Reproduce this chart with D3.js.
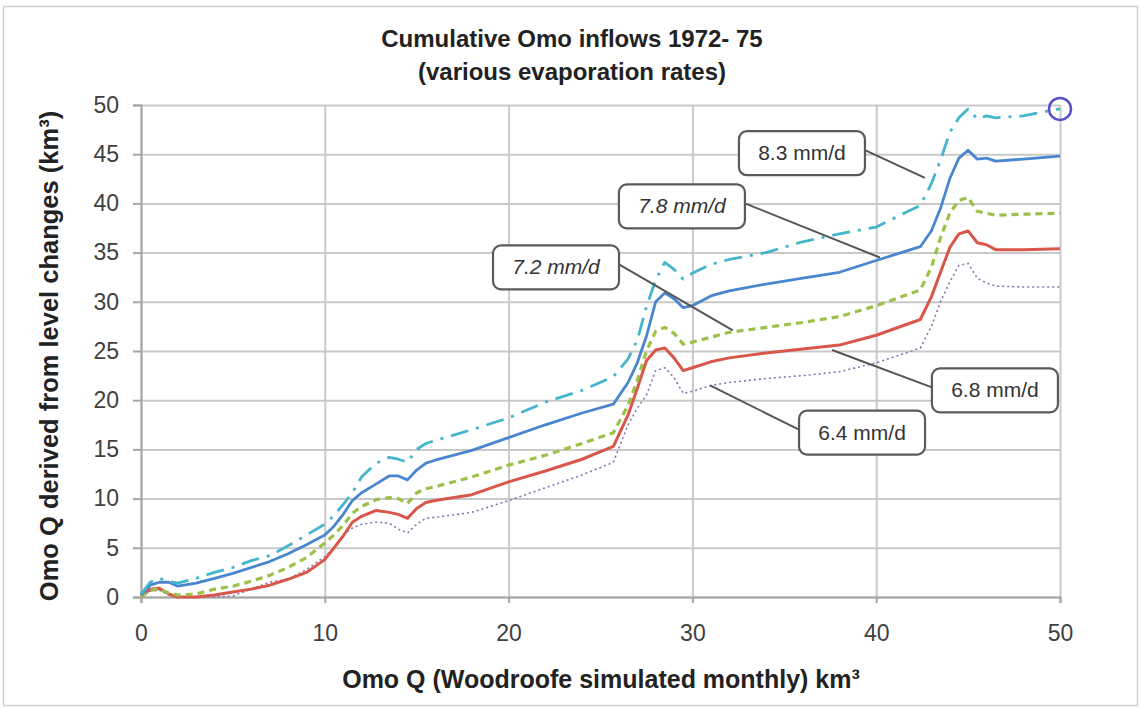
<!DOCTYPE html>
<html>
<head>
<meta charset="utf-8">
<script src="https://cdn.jsdelivr.net/npm/d3@7"></script>
<style>
  body { margin: 0; background: #fff; }
  svg { font-family: "Liberation Sans", Arial, sans-serif; }
</style>
</head>
<body>
<svg id="chart" width="1142" height="708"></svg>
<script>
// Omo Q (Woodroofe simulated monthly), km3 - shared x for all series
var xVals = [0, 0.5, 1, 1.5, 2, 3, 4, 5, 6, 7, 8, 9, 10, 10.5, 11, 11.5, 12, 12.8, 13.5, 14, 14.5, 15, 15.5, 16,
  18, 20, 22, 24, 25.7, 26.5, 27, 27.5, 28, 28.5, 29, 29.5, 30, 31, 32, 34, 36, 38, 40, 42.4,
  43, 43.5, 44, 44.5, 45, 45.5, 46, 46.5, 48, 50];

var q83 = [0.3, 1.5, 1.9, 1.6, 1.4, 1.9, 2.5, 3.0, 3.7, 4.2, 5.2, 6.3, 7.4, 8.3, 9.4, 10.6, 12.2, 13.6, 14.2, 14.0, 13.7, 15.0, 15.6, 15.9,
  17.0, 18.2, 19.8, 21.0, 22.4, 24.2, 26.1, 29.5, 32.2, 34.0, 33.3, 32.3, 32.9, 33.8, 34.3, 35.0, 36.1, 36.9, 37.6, 39.8,
  42.0, 44.4, 47.2, 48.7, 49.6, 48.6, 48.9, 48.7, 48.9, 49.6];

var q78 = [0.2, 1.2, 1.5, 1.5, 1.1, 1.4, 1.9, 2.4, 3.0, 3.6, 4.4, 5.3, 6.3, 7.2, 8.4, 9.8, 10.6, 11.5, 12.3, 12.3, 11.9, 12.9, 13.6, 13.9,
  14.9, 16.2, 17.5, 18.7, 19.6, 21.8, 23.8, 26.5, 30.0, 30.9, 30.3, 29.4, 29.6, 30.6, 31.1, 31.8, 32.4, 33.0, 34.2, 35.6,
  37.2, 39.5, 42.5, 44.6, 45.4, 44.5, 44.6, 44.3, 44.5, 44.8];

var q72 = [0, 0.7, 0.8, 0.4, 0.2, 0.3, 0.8, 1.1, 1.6, 2.2, 3.0, 4.0, 5.5, 6.3, 7.3, 8.5, 9.2, 9.9, 10.1, 10.0, 9.5, 10.6, 11.0, 11.2,
  12.2, 13.4, 14.4, 15.6, 16.7, 19.5, 22.0, 25.0, 27.0, 27.4, 26.8, 25.7, 25.9, 26.4, 26.9, 27.4, 27.9, 28.5, 29.6, 31.2,
  33.5, 36.5, 39.0, 40.3, 40.6, 39.2, 39.0, 38.8, 38.9, 39.0];

var q68 = [0, 0.8, 0.9, 0.3, 0, 0, 0.2, 0.5, 0.8, 1.2, 1.8, 2.5, 3.8, 5.0, 6.2, 7.6, 8.2, 8.8, 8.6, 8.4, 8.0, 9.0, 9.6, 9.8,
  10.4, 11.7, 12.8, 14.0, 15.3, 18.5, 21.2, 24.0, 25.1, 25.3, 24.3, 23.0, 23.3, 23.9, 24.3, 24.8, 25.2, 25.6, 26.6, 28.2,
  30.5, 33.0, 35.5, 36.9, 37.2, 36.0, 35.8, 35.3, 35.3, 35.4];

var q64 = [0, 0.6, 0.7, 0.2, 0, 0, 0, 0.1, 0.8, 1.5, 1.8, 2.8, 4.1, 5.0, 6.3, 7.0, 7.4, 7.6, 7.5, 6.9, 6.5, 7.4, 8.0, 8.1,
  8.6, 9.8, 11.1, 12.4, 13.7, 17.5, 19.2, 20.5, 23.0, 23.3, 22.3, 20.7, 20.9, 21.5, 21.8, 22.2, 22.5, 22.9, 23.8, 25.3,
  27.5, 30.0, 32.0, 33.7, 33.9, 32.4, 31.9, 31.6, 31.5, 31.5];

var xTicks = [0, 10, 20, 30, 40, 50];
var yTicks = [0, 5, 10, 15, 20, 25, 30, 35, 40, 45, 50];

// callouts: label, point on the line, box centre (both in data units)
var callouts = [
  { text: "8.3 mm/d", italic: false, at: [42.65, 42.6], box: [35.96, 45.1], side: "right" },
  { text: "7.8 mm/d", italic: true,  at: [40.2, 34.5],  box: [29.43, 39.7], side: "right" },
  { text: "7.2 mm/d", italic: true,  at: [32.2, 27.1],  box: [22.58, 33.5], side: "right" },
  { text: "6.8 mm/d", italic: false, at: [37.6, 25.1],  box: [46.46, 21.0], side: "left" },
  { text: "6.4 mm/d", italic: false, at: [30.96, 21.5], box: [39.23, 16.7], side: "left" }
];

var margin = { top: 105, right: 82, bottom: 111, left: 141 };
var width = 1142 - margin.left - margin.right;
var height = 708 - margin.top - margin.bottom;

var svg = d3.select("#chart");

// outer frame
svg.append("rect")
  .attr("x", 3.5).attr("y", 6.5)
  .attr("width", 1134).attr("height", 699)
  .attr("fill", "#fff")
  .attr("stroke", "#d0d0d0")
  .attr("stroke-width", 1.5);

var x = d3.scaleLinear().domain([0, 50]).range([0, width]);
var y = d3.scaleLinear().domain([0, 50]).range([height, 0]);

var g = svg.append("g")
  .attr("transform", "translate(" + margin.left + "," + margin.top + ")");

// gridlines
g.append("g")
  .attr("class", "gridy")
  .call(d3.axisLeft(y).tickValues(yTicks).tickSize(-width).tickFormat(""))
  .call(function (s) { s.select(".domain").remove(); })
  .selectAll("line").attr("stroke", "#c9c9c9").attr("stroke-width", 2);

g.append("g")
  .attr("class", "gridx")
  .attr("transform", "translate(0," + height + ")")
  .call(d3.axisBottom(x).tickValues(xTicks).tickSize(-height).tickFormat(""))
  .call(function (s) { s.select(".domain").remove(); })
  .selectAll("line").attr("stroke", "#c9c9c9").attr("stroke-width", 2);

// axes
var yAxis = g.append("g")
  .call(d3.axisLeft(y).tickValues(yTicks).tickSize(8).tickPadding(14));
var xAxis = g.append("g")
  .attr("transform", "translate(0," + height + ")")
  .call(d3.axisBottom(x).tickValues(xTicks).tickSize(6).tickPadding(22));

[xAxis, yAxis].forEach(function (a) {
  a.select(".domain").attr("stroke", "#a6a6a6").attr("stroke-width", 2);
  a.selectAll(".tick line").attr("stroke", "#a6a6a6").attr("stroke-width", 2);
  a.selectAll(".tick text")
    .attr("fill", "#404040")
    .style("font-size", "23px")
    .style("font-family", "'Liberation Sans', Arial, sans-serif");
});

// series
var series = [
  { name: "6.4", values: q64, color: "#8a72b0", width: 1.6, dash: "2,3" },
  { name: "6.8", values: q68, color: "#d9574a", width: 3, dash: null },
  { name: "7.2", values: q72, color: "#9cc048", width: 3.2, dash: "7,5" },
  { name: "7.8", values: q78, color: "#4a86cf", width: 2.8, dash: null },
  { name: "8.3", values: q83, color: "#45b5cc", width: 2.8, dash: "18,8,3,8" }
];

var line = d3.line()
  .x(function (d, i) { return x(xVals[i]); })
  .y(function (d) { return y(d); });

g.selectAll(".series")
  .data(series)
  .enter().append("path")
  .attr("class", "series")
  .attr("d", function (s) { return line(s.values); })
  .attr("fill", "none")
  .attr("stroke", function (s) { return s.color; })
  .attr("stroke-width", function (s) { return s.width; })
  .attr("stroke-dasharray", function (s) { return s.dash; })
  .attr("stroke-linejoin", "round");

// circle on the last 8.3 point
g.append("circle")
  .attr("cx", x(xVals[xVals.length - 1]))
  .attr("cy", y(q83[q83.length - 1]))
  .attr("r", 11)
  .attr("fill", "none")
  .attr("stroke", "#5a4fc8")
  .attr("stroke-width", 2.5);

// callouts
var boxW = 126, boxH = 44;
callouts.forEach(function (c) {
  var bx = x(c.box[0]), by = y(c.box[1]);
  var sx = c.side === "right" ? bx + boxW / 2 : bx - boxW / 2;
  g.append("line")
    .attr("x1", sx).attr("y1", by - 3)
    .attr("x2", x(c.at[0])).attr("y2", y(c.at[1]))
    .attr("stroke", "#555").attr("stroke-width", 2);
  g.append("rect")
    .attr("x", bx - boxW / 2).attr("y", by - boxH / 2)
    .attr("width", boxW).attr("height", boxH)
    .attr("rx", 8)
    .attr("fill", "#fff")
    .attr("stroke", "#5a5a5a")
    .attr("stroke-width", 2.2);
  g.append("text")
    .attr("x", bx).attr("y", by + 7)
    .attr("text-anchor", "middle")
    .attr("fill", "#333")
    .style("font-size", "21px")
    .style("font-style", c.italic ? "italic" : "normal")
    .text(c.text);
});

// titles
function boldText(tx, ty, size, str) {
  return svg.append("text")
    .attr("x", tx).attr("y", ty)
    .attr("text-anchor", "middle")
    .style("font-size", size + "px").style("font-weight", "bold").attr("fill", "#222")
    .text(str);
}
boldText(572, 47, 24, "Cumulative Omo inflows 1972- 75");
boldText(572, 80, 24, "(various evaporation rates)");
boldText(601, 688, 25, "Omo Q (Woodroofe simulated monthly) km³");

svg.append("text")
  .attr("transform", "translate(58,356) rotate(-90)")
  .attr("text-anchor", "middle")
  .style("font-size", "25.5px").style("font-weight", "bold").attr("fill", "#222")
  .text("Omo Q derived from level changes (km³)");
</script>
</body>
</html>
